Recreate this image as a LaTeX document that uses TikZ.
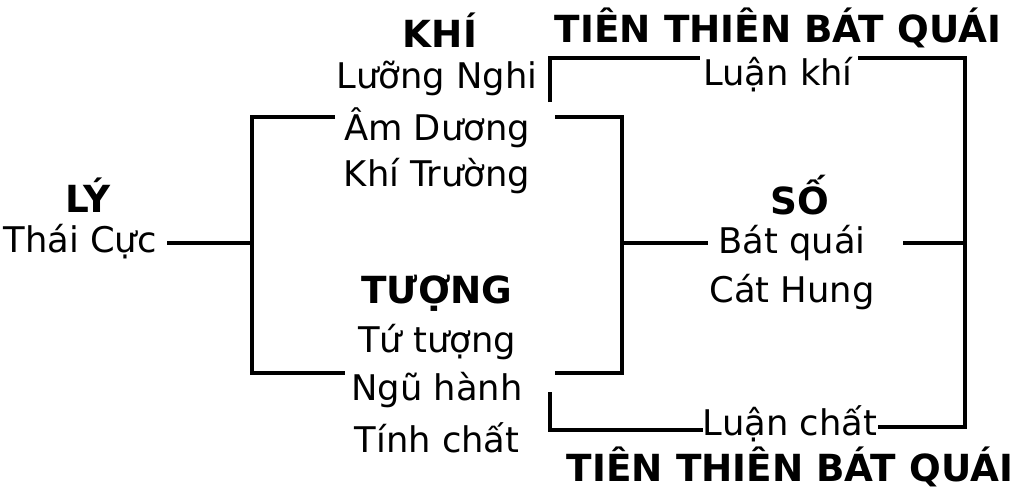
\documentclass[tikz,border=0pt]{standalone}
\usepackage{fontspec}
\setmainfont{DejaVu Sans}
\begin{document}
\begin{tikzpicture}[x=0.75pt,y=-0.75pt,
  t/.style={font=\fontsize{26.5}{28}\selectfont,inner sep=0pt},
  h/.style={font=\fontsize{28}{30}\selectfont\bfseries,inner sep=0pt},
  l/.style={line width=3pt}]
\useasboundingbox (0,0) rectangle (1016,494);
\node[h] (ly) at (88,195) {LÝ};
\node[t] (tc) at (80,242) {Thái Cực};
\node[h] (khi) at (440,30) {KHÍ};
\node[t] (ln) at (437,78) {Lưỡng Nghi};
\node[t] (ad) at (437,128) {Âm Dương};
\node[t] (kt) at (437,176) {Khí Trường};
\node[h] (tg) at (437,293) {TƯỢNG};
\node[t] (tt) at (437,342) {Tứ tượng};
\node[t] (nh) at (437,390) {Ngũ hành};
\node[t] (tch) at (437,438) {Tính chất};
\node[h] (so) at (800,195) {SỐ};
\node[t] (bq) at (792,243) {Bát quái};
\node[t] (ch) at (792,292) {Cát Hung};
\node[h] (tt1) at (778,28) {TIÊN THIÊN BÁT QUÁI};
\node[h] (tt2) at (790,467) {TIÊN THIÊN BÁT QUÁI};
\node[t] (lk) at (778,75) {Luận khí};
\node[t] (lc) at (790,424) {Luận chất};
\draw[l] (167,243) -- (252,243);
\draw[l] (335,117) -- (252,117) -- (252,373) -- (345,373);
\draw[l] (555,117) -- (622,117) -- (622,373) -- (555,373);
\draw[l] (622,243) -- (708,243);
\draw[l] (903,243) -- (965,243);
\draw[l] (550,102) -- (550,58) -- (700,58);
\draw[l] (858,58) -- (965,58) -- (965,427) -- (878,427);
\draw[l] (550,392) -- (550,430) -- (703,430);
\end{tikzpicture}
\end{document}
